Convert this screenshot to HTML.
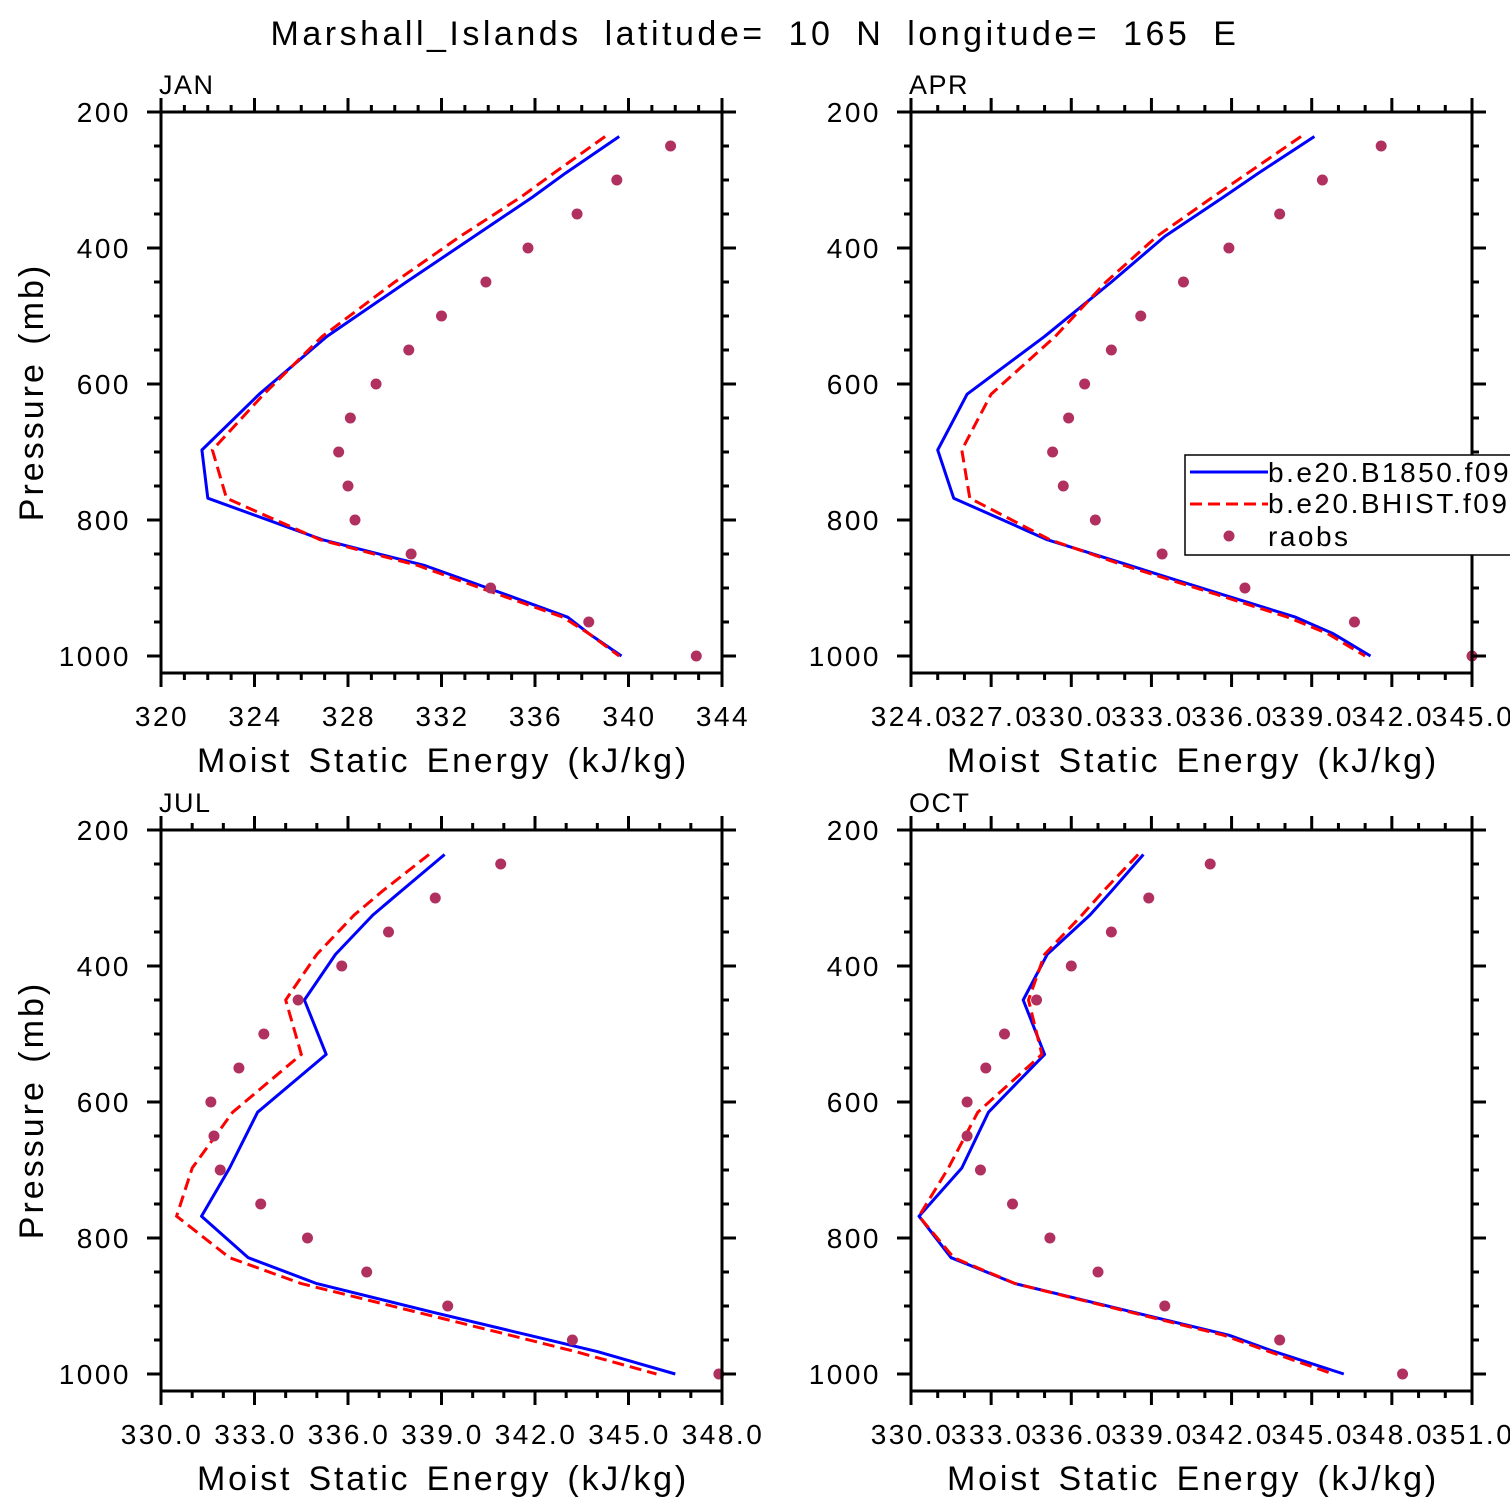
<!DOCTYPE html>
<html><head><meta charset="utf-8"><style>
body{margin:0;background:#fff}
svg{display:block;font-family:"Liberation Sans",sans-serif}
</style></head><body>
<svg id="c" width="1510" height="1510" viewBox="0 0 1510 1510">
<text x="755" y="45" text-anchor="middle" font-size="34" letter-spacing="3.5" word-spacing="10">Marshall_Islands  latitude= 10 N longitude= 165 E</text>
</svg>
<script>
const levels=[236,290,325,383,450,530,615,697,768,829,867,909,943,967,1000];
const obsLevels=[250,300,350,400,450,500,550,600,650,700,750,800,850,900,950,1000];
const janBlue=[339.6,337.3,335.9,333.4,330.5,327.1,324.2,321.75,322.0,326.9,331.3,334.7,337.4,338.3,339.7];
const janRed=[339.0,336.8,335.4,332.8,330.0,326.9,324.4,322.2,322.8,326.8,331.0,334.4,337.2,338.3,339.6];
const janObs=[341.8,339.5,337.8,335.7,333.9,332.0,330.6,329.2,328.1,327.6,328.0,328.3,330.7,334.1,338.3,342.9];
const aprBlue=[339.1,337.0,335.7,333.5,331.5,329.0,326.1,325.0,325.6,329.1,332.2,335.6,338.4,339.8,341.2];
const aprRed=[338.6,336.6,335.3,333.2,331.3,329.4,327.0,325.9,326.2,329.2,332.0,335.4,338.1,339.6,341.0];
const aprObs=[341.6,339.4,337.8,335.9,334.2,332.6,331.5,330.5,329.9,329.3,329.7,330.9,333.4,336.5,340.6,345.0];
const julBlue=[339.1,337.7,336.8,335.6,334.6,335.3,333.1,332.2,331.3,332.8,335.0,338.7,341.8,344.0,346.5];
const julRed=[338.6,337.1,336.2,335.0,334.0,334.5,332.3,331.0,330.5,332.2,334.5,338.2,341.2,343.3,345.9];
const julObs=[340.9,338.8,337.3,335.8,334.4,333.3,332.5,331.6,331.7,331.9,333.2,334.7,336.6,339.2,343.2,347.9];
const octBlue=[338.7,337.5,336.7,335.1,334.2,335.0,332.9,331.9,330.3,331.5,333.9,338.3,341.9,343.6,346.2];
const octRed=[338.5,337.2,336.4,335.0,334.4,334.9,332.5,331.4,330.3,331.6,333.9,338.2,341.7,343.4,345.8];
const octObs=[341.2,338.9,337.5,336.0,334.7,333.5,332.8,332.1,332.1,332.6,333.8,335.2,337.0,339.5,343.8,348.4];
const janTicks=["320","324","328","332","336","340","344"];
const aprTicks=["324.0","327.0","330.0","333.0","336.0","339.0","342.0","345.0"];
const julTicks=["330.0","333.0","336.0","339.0","342.0","345.0","348.0"];
const octTicks=["330.0","333.0","336.0","339.0","342.0","345.0","348.0","351.0"];
const yTicks=["200","400","600","800","1000"];
const NS="http://www.w3.org/2000/svg";
const svg=document.getElementById('c');
function mk(t,a,p){const e=document.createElementNS(NS,t);for(const k in a)e.setAttribute(k,a[k]);(p||svg).appendChild(e);return e;}
function panel(name,x0,y0,xmin,xmax,step,minor,ticks,blue,red,obs,legend,ytitle){
  const x1=x0+561,y1=y0+561;
  const g=mk('g',{});
  
  
  const X=v=>x0+(v-xmin)/(xmax-xmin)*561;
  const Y=p=>y0+(p-200)*0.68;
  const pts=a=>a.map((v,i)=>X(v).toFixed(1)+','+Y(levels[i]).toFixed(1)).join(' ');
  const b=mk('polyline',{points:pts(blue),fill:'none',stroke:'#0000ff','stroke-width':3,'stroke-linejoin':'round'},g);
  
  
  const r=mk('polyline',{points:pts(red),fill:'none',stroke:'#ff0000','stroke-width':3,'stroke-dasharray':'12 6'},g);
  
  
  obs.forEach((v,i)=>{const c=mk('circle',{cx:X(v),cy:Y(obsLevels[i]),r:5.5,fill:'#b03060'},g);
    
    });
  const f=mk('rect',{x:x0,y:y0,width:561,height:561,fill:'none',stroke:'#000','stroke-width':3},g);
  
  
  let d='';
  for(let p=200;p<=1000;p+=50){const L=(p%200==0)?14:7;const y=Y(p);d+=`M${x0-L},${y}H${x0}M${x1},${y}H${x1+L}`;}
  for(let v=xmin;v<=xmax+1e-6;v+=minor){const maj=Math.abs(((v-xmin)/step)-Math.round((v-xmin)/step))<1e-6;const L=maj?14:7;const x=X(v);d+=`M${x},${y1}V${y1+L}M${x},${y0}V${y0-L}`;}
  const tk=mk('path',{d:d,stroke:'#000','stroke-width':3,fill:'none'},g);
  
  
  yTicks.forEach((t,i)=>{const e=mk('text',{x:x0-30,y:Y(200+i*200)+10,'text-anchor':'end','font-size':28,'letter-spacing':2.5},g);e.textContent=t;
    
    });
  ticks.forEach((t,i)=>{const e=mk('text',{x:X(xmin+i*step)+1,y:y1+53,'text-anchor':'middle','font-size':28,'letter-spacing':2.5},g);e.textContent=t;
    
    });
  const xt=mk('text',{x:x0+282,y:y1+99,'text-anchor':'middle','font-size':34,'letter-spacing':2.8,'word-spacing':4},g);xt.textContent='Moist Static Energy (kJ/kg)';
  
  
  if(ytitle){
  const yt=mk('text',{x:0,y:0,'text-anchor':'middle','font-size':34,'letter-spacing':3,'word-spacing':4,transform:`translate(${x0-118},${y0+280}) rotate(-90)`},g);yt.textContent='Pressure (mb)';
  
  
  }
  const lb=mk('text',{x:x0-2,y:y0-18,'font-size':27,'letter-spacing':1.5},g);lb.textContent=name.toUpperCase();
  
  
  if(legend){
    const lg=mk('g',{},g);
    
    
    mk('rect',{x:1185,y:455,width:340,height:100,fill:'#fff',stroke:'#000','stroke-width':1.5},lg);
    mk('line',{x1:1190,y1:472,x2:1268,y2:472,stroke:'#0000ff','stroke-width':3},lg);
    mk('line',{x1:1190,y1:504,x2:1268,y2:504,stroke:'#ff0000','stroke-width':3,'stroke-dasharray':'12 6'},lg);
    mk('circle',{cx:1229,cy:536,r:5.5,fill:'#b03060'},lg);
    [['b.e20.B1850.f09',482],['b.e20.BHIST.f09',513],['raobs',546]].forEach(([t,y])=>{const e=mk('text',{x:1268,y:y,'font-size':28,'letter-spacing':2.5},lg);e.textContent=t;
      
      });
  }
}
panel('jan',161,112,320,344,4,1,janTicks,janBlue,janRed,janObs,false,true);
panel('apr',911,112,324,345,3,1,aprTicks,aprBlue,aprRed,aprObs,true,false);
panel('jul',161,830,330,348,3,1,julTicks,julBlue,julRed,julObs,false,true);
panel('oct',911,830,330,351,3,1,octTicks,octBlue,octRed,octObs,false,false);
</script>
</body></html>
